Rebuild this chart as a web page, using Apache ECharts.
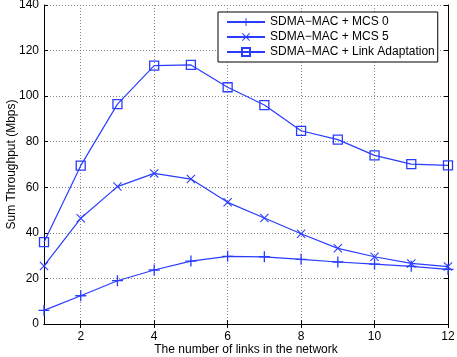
<!DOCTYPE html>
<html>
<head>
<meta charset="utf-8">
<script src="https://cdn.jsdelivr.net/npm/echarts@6/dist/echarts.min.js"></script>
<style>
  html, body { margin: 0; padding: 0; background: #fff; }
  #chart { width: 457px; height: 357px; }
</style>
</head>
<body>
<div id="chart"></div>
<script>
// number of links in the network
const links = ['1', '2', '3', '4', '5', '6', '7', '8', '9', '10', '11', '12']
const mcs0 = [6.0, 12.4, 19.0, 23.7, 27.6, 29.7, 29.5, 28.4, 27.2, 26.3, 25.3, 24.0]
const mcs5 = [25.5, 46.4, 60.3, 66.1, 63.6, 53.4, 46.5, 39.6, 33.2, 29.5, 26.6, 25.2]
const linkAdapt = [35.9, 69.5, 96.5, 113.4, 113.7, 103.9, 96.1, 84.8, 80.9, 74.0, 70.2, 69.6]
const names = ['SDMA\u2212MAC + MCS 0', 'SDMA\u2212MAC + MCS 5', 'SDMA\u2212MAC + Link Adaptation']

const blue = '#2a3dff'
const font = 'Liberation Sans, Arial, sans-serif'
const plusPath = 'path://M4.4,0H5.6V10H4.4Z M0,4.4H10V5.6H0Z'
const crossPath = 'path://M0,0.85L0.85,0L10,9.15L9.15,10Z M9.15,0L10,0.85L0.85,10L0,9.15Z'
const evenOnly = (i, v) => Number(v) % 2 === 0
const grid = { type: [1, 2], color: '#888', width: 1 }

const chart = echarts.init(document.getElementById('chart'))
chart.setOption({
  backgroundColor: '#fff',
  animation: false,
  textStyle: { fontFamily: font },
  grid: { left: 44, right: 9, top: 5, bottom: 33, outerBoundsMode: 'none', containLabel: false },
  legend: {
    orient: 'vertical',
    left: 218,
    top: 12,
    padding: [3, 3, 3, 8],
    itemWidth: 38,
    itemHeight: 10,
    itemGap: 1,
    backgroundColor: '#fff',
    borderColor: '#000',
    borderWidth: 1,
    borderRadius: 0,
    textStyle: { fontSize: 12, color: '#000', fontFamily: font, lineHeight: 14 },
    data: names
  },
  xAxis: [{
    type: 'category',
    data: links,
    boundaryGap: false,
    name: 'The number of links in the network',
    nameLocation: 'middle',
    nameGap: 20,
    nameMoveOverlap: false,
    nameTextStyle: { fontSize: 12, color: '#000', fontFamily: font },
    axisLine: { lineStyle: { color: '#000', width: 1 } },
    axisTick: { inside: true, length: 4, interval: evenOnly, lineStyle: { color: '#000' } },
    axisLabel: { interval: evenOnly, fontSize: 12, color: '#000', margin: 7 },
    splitLine: { show: true, interval: evenOnly, lineStyle: grid }
  }, {
    type: 'category',
    data: links,
    boundaryGap: false,
    position: 'top',
    axisLine: { lineStyle: { color: '#000', width: 1 } },
    axisTick: { inside: true, length: 4, interval: evenOnly, lineStyle: { color: '#000' } },
    axisLabel: { show: false },
    splitLine: { show: false }
  }],
  yAxis: [{
    type: 'value',
    min: 0,
    max: 140,
    interval: 20,
    name: 'Sum Throughput (Mbps)',
    nameLocation: 'middle',
    nameGap: 26,
    nameMoveOverlap: false,
    nameTextStyle: { fontSize: 12, color: '#000', fontFamily: font },
    axisLine: { show: true, lineStyle: { color: '#000', width: 1 } },
    axisTick: { show: true, inside: true, length: 4, lineStyle: { color: '#000' } },
    axisLabel: { fontSize: 12, color: '#000', margin: 5 },
    splitLine: { show: true, lineStyle: grid }
  }, {
    type: 'value',
    min: 0,
    max: 140,
    interval: 20,
    position: 'right',
    axisLine: { show: true, lineStyle: { color: '#000', width: 1 } },
    axisTick: { show: true, inside: true, length: 4, lineStyle: { color: '#000' } },
    axisLabel: { show: false },
    splitLine: { show: false }
  }],
  series: [{
    name: names[0],
    type: 'line',
    data: mcs0,
    symbol: plusPath,
    symbolSize: 11,
    lineStyle: { color: blue, width: 1.2 },
    itemStyle: { color: blue }
  }, {
    name: names[1],
    type: 'line',
    data: mcs5,
    symbol: crossPath,
    symbolSize: 9,
    lineStyle: { color: blue, width: 1.2 },
    itemStyle: { color: blue }
  }, {
    name: names[2],
    type: 'line',
    data: linkAdapt,
    symbol: 'rect',
    symbolSize: 9,
    lineStyle: { color: blue, width: 1.2 },
    itemStyle: { color: 'rgba(255,255,255,0)', borderColor: blue, borderWidth: 1.3 }
  }]
})
</script>
</body>
</html>
